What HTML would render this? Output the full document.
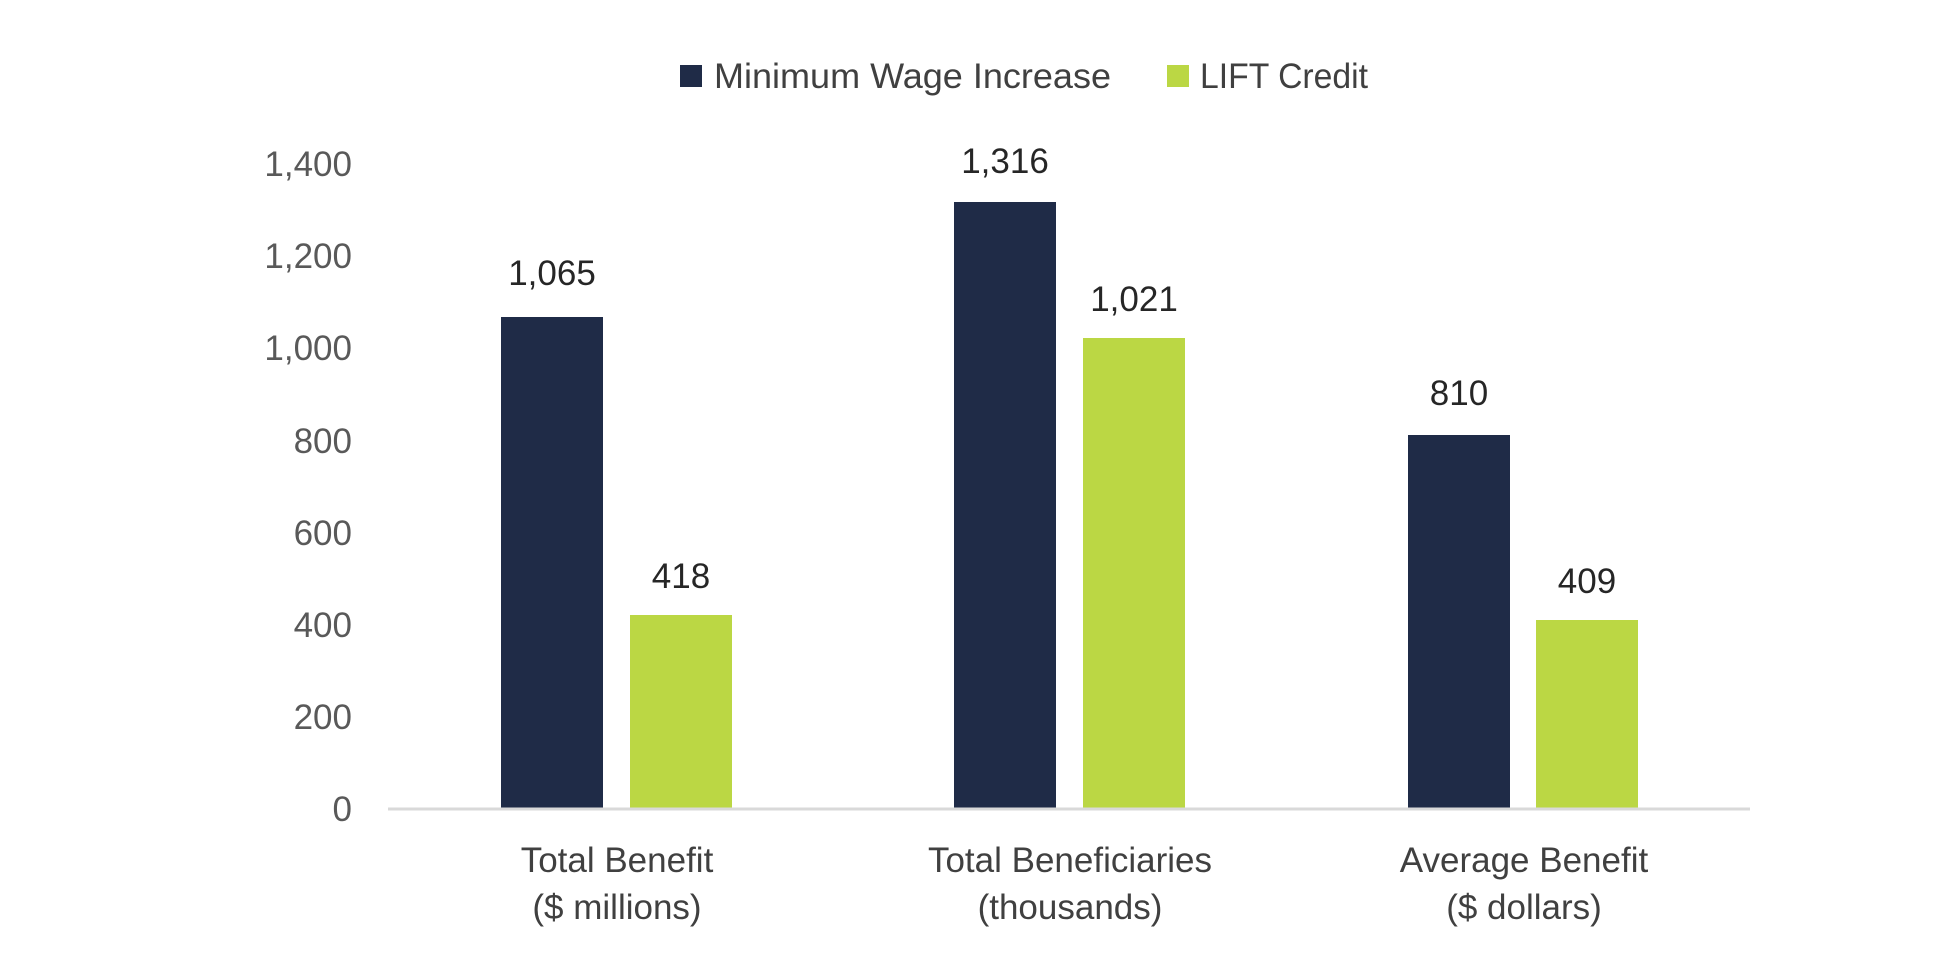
<!DOCTYPE html>
<html><head><style>
body{margin:0;background:#fff;}
svg text{font-family:"Liberation Sans",sans-serif;}
</style></head><body>
<svg width="1946" height="968" xmlns="http://www.w3.org/2000/svg">
<rect width="1946" height="968" fill="#fff"/>
<!-- legend -->
<rect x="680" y="65" width="22" height="22" fill="#1f2b47"/>
<text x="714" y="88" font-size="35" textLength="397" lengthAdjust="spacingAndGlyphs" fill="#404040">Minimum Wage Increase</text>
<rect x="1167" y="65" width="22" height="22" fill="#bbd744"/>
<text x="1200" y="88" font-size="35" textLength="168" lengthAdjust="spacingAndGlyphs" fill="#404040">LIFT Credit</text>
<!-- y ticks -->
<g font-size="35" fill="#595959" text-anchor="end">
<text x="352" y="821">0</text>
<text x="352" y="729">200</text>
<text x="352" y="637">400</text>
<text x="352" y="545">600</text>
<text x="352" y="453">800</text>
<text x="352" y="360">1,000</text>
<text x="352" y="268">1,200</text>
<text x="352" y="176">1,400</text>
</g>
<!-- bars -->
<rect x="501" y="317" width="102" height="491" fill="#1f2b47"/>
<rect x="630" y="615" width="102" height="193" fill="#bbd744"/>
<rect x="954" y="202" width="102" height="606" fill="#1f2b47"/>
<rect x="1083" y="338" width="102" height="470" fill="#bbd744"/>
<rect x="1408" y="435" width="102" height="373" fill="#1f2b47"/>
<rect x="1536" y="620" width="102" height="188" fill="#bbd744"/>
<line x1="388" y1="809" x2="1750" y2="809" stroke="#d9d9d9" stroke-width="3"/>
<!-- value labels -->
<g font-size="35" fill="#262626" text-anchor="middle">
<text x="552" y="285">1,065</text>
<text x="681" y="588">418</text>
<text x="1005" y="173">1,316</text>
<text x="1134" y="311">1,021</text>
<text x="1459" y="405">810</text>
<text x="1587" y="593">409</text>
</g>
<!-- category labels -->
<g font-size="35" fill="#404040" text-anchor="middle">
<text x="617" y="872">Total Benefit</text>
<text x="617" y="919">($ millions)</text>
<text x="1070" y="872">Total Beneficiaries</text>
<text x="1070" y="919">(thousands)</text>
<text x="1524" y="872">Average Benefit</text>
<text x="1524" y="919">($ dollars)</text>
</g>
</svg>
</body></html>
